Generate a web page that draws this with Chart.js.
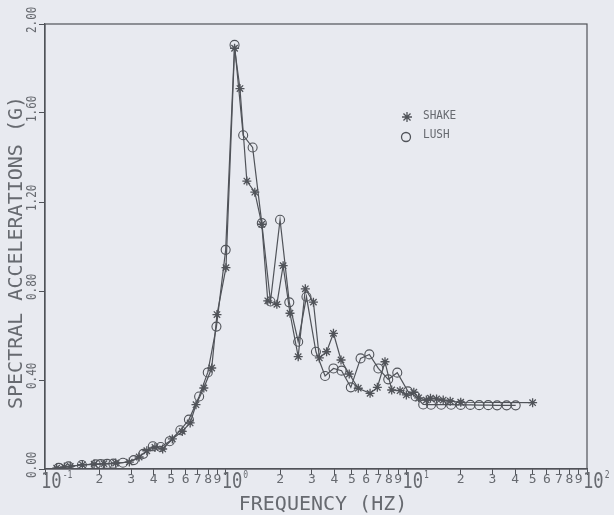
<!DOCTYPE html>
<html>
<head>
<meta charset="utf-8">
<title>Spectral accelerations - SHAKE x LUSH</title>
<script src="https://cdn.jsdelivr.net/npm/chart.js@4.4.1/dist/chart.umd.min.js"></script>
<style>
  html, body { margin: 0; padding: 0; background: #e8eaf0; }
  canvas { display: block; }
</style>
</head>
<body>
<canvas id="grafico" width="614" height="515"></canvas>
<script>
// =====================================================
// DADOS
// =====================================================
const shakeFreq = [0.116, 0.128, 0.138, 0.161, 0.187, 0.212, 0.246, 0.293, 0.332, 0.366,
  0.406, 0.448, 0.507, 0.575, 0.636, 0.685, 0.757, 0.837, 0.895, 1.004,
  1.12, 1.20, 1.31, 1.45, 1.585, 1.71, 1.92, 2.08, 2.27, 2.52,
  2.76, 3.06, 3.30, 3.62, 3.95, 4.35, 4.83, 5.42, 6.30, 6.91,
  7.62, 8.30, 9.23, 10.0, 11.0, 11.7, 12.9, 13.6, 14.7, 16.0,
  17.5, 20.0, 50.0];
const shakeAcc = [0.004, 0.009, 0.012, 0.019, 0.022, 0.024, 0.027, 0.031, 0.054, 0.082,
  0.097, 0.090, 0.135, 0.169, 0.207, 0.289, 0.364, 0.454, 0.694, 0.905,
  1.891, 1.71, 1.294, 1.244, 1.10, 0.756, 0.74, 0.914, 0.70, 0.505,
  0.81, 0.75, 0.499, 0.527, 0.61, 0.49, 0.427, 0.363, 0.34, 0.367,
  0.482, 0.355, 0.352, 0.333, 0.345, 0.32, 0.31, 0.318, 0.315, 0.31,
  0.305, 0.30, 0.298];

const lushFreq = [0.119, 0.135, 0.160, 0.191, 0.203, 0.221, 0.239, 0.270, 0.310, 0.350,
  0.395, 0.437, 0.49, 0.561, 0.626, 0.713, 0.796, 0.889, 1.00, 1.12,
  1.25, 1.41, 1.585, 1.77, 2.00, 2.25, 2.52, 2.80, 3.16, 3.55,
  3.95, 4.38, 4.93, 5.58, 6.24, 7.00, 7.94, 8.91, 10.2, 11.25,
  12.4, 13.7, 15.6, 17.7, 20.0, 22.6, 25.3, 28.4, 31.8, 35.9,
  40.3];
const lushAcc = [0.005, 0.012, 0.018, 0.021, 0.022, 0.023, 0.024, 0.028, 0.040, 0.068,
  0.102, 0.099, 0.125, 0.174, 0.222, 0.326, 0.434, 0.640, 0.985, 1.906,
  1.50, 1.445, 1.105, 0.753, 1.12, 0.749, 0.572, 0.774, 0.527, 0.418,
  0.452, 0.442, 0.367, 0.497, 0.515, 0.452, 0.403, 0.433, 0.349, 0.326,
  0.29, 0.289, 0.289, 0.289, 0.288, 0.288, 0.287, 0.287, 0.286, 0.286,
  0.286];

const xTicks = [0.1, 0.2, 0.3, 0.4, 0.5, 0.6, 0.7, 0.8, 0.9,
  1, 2, 3, 4, 5, 6, 7, 8, 9,
  10, 20, 30, 40, 50, 60, 70, 80, 90, 100];
const xTickLabels = ["10^-1", "2", "3", "4", "5", "6", "7", "8", "9",
  "10^0", "2", "3", "4", "5", "6", "7", "8", "9",
  "10^1", "2", "3", "4", "5", "6", "7", "8", "9", "10^2"];
const yTicks = [0, 0.4, 0.8, 1.2, 1.6, 2.0];
const yTickLabels = ["0.00", "0.40", "0.80", "1.20", "1.60", "2.00"];

const nomesSeries = ["SHAKE", "LUSH"];
const tituloX = "FREQUENCY (HZ)";
const tituloY = "SPECTRAL ACCELERATIONS (G)";

// =====================================================
// ESTILO
// =====================================================
const corFundo = "#e8eaf0";
const corLinha = "#505359";
const corTexto = "#676a70";
const fonte = '"DejaVu Sans Mono", monospace';

function pontos(fs, vs) {
  return fs.map((f, i) => ({ x: f, y: vs[i] }));
}

// texto comprimido na horizontal (fonte de plotter é estreita)
function textoEstreito(ctx, txt, x, y, sx) {
  ctx.save();
  ctx.translate(x, y);
  ctx.scale(sx, 1);
  ctx.fillText(txt, 0, 0);
  ctx.restore();
}

function marcador(ctx, estilo, x, y, r) {
  ctx.beginPath();
  if (estilo === "circle") {
    ctx.arc(x, y, r, 0, Math.PI * 2);
  } else {
    for (let k = 0; k < 4; k++) {
      const a = (k * Math.PI) / 4;
      ctx.moveTo(x - r * Math.cos(a), y - r * Math.sin(a));
      ctx.lineTo(x + r * Math.cos(a), y + r * Math.sin(a));
    }
  }
  ctx.stroke();
}

// =====================================================
// PLUGIN: fundo, moldura, rótulos e legenda
// =====================================================
const textosPlotter = {
  id: "textosPlotter",
  beforeDraw(chart) {
    const ctx = chart.ctx;
    ctx.save();
    ctx.fillStyle = corFundo;
    ctx.fillRect(0, 0, chart.width, chart.height);
    ctx.restore();
  },
  afterDraw(chart) {
    const { ctx, chartArea: area } = chart;
    const sx = chart.scales.x;
    const sy = chart.scales.y;
    ctx.save();

    // moldura
    ctx.strokeStyle = corLinha;
    ctx.lineWidth = 1.2;
    ctx.strokeRect(area.left, area.top, area.right - area.left, area.bottom - area.top);

    ctx.fillStyle = corTexto;

    // rótulos do eixo Y (girados, ponto decimal na marca)
    ctx.font = "14px " + fonte;
    ctx.textAlign = "left";
    ctx.textBaseline = "middle";
    yTicks.forEach((v, i) => {
      const py = sy.getPixelForValue(v);
      ctx.save();
      ctx.translate(area.left - 13, py + 9);
      ctx.rotate(-Math.PI / 2);
      ctx.scale(0.78, 1);
      ctx.fillText(yTickLabels[i], 0, 0);
      ctx.restore();
    });

    // rótulos do eixo X
    ctx.textBaseline = "alphabetic";
    xTicks.forEach((v, i) => {
      const px = sx.getPixelForValue(v);
      const lab = xTickLabels[i];
      if (lab.startsWith("10^")) {
        ctx.font = "22px " + fonte;
        ctx.textAlign = "left";
        const w = ctx.measureText("10").width * 0.78;
        textoEstreito(ctx, "10", px - 4, area.bottom + 19, 0.78);
        ctx.font = "10px " + fonte;
        textoEstreito(ctx, lab.slice(3), px - 4 + w + 1, area.bottom + 9, 0.8);
      } else {
        ctx.font = "13px " + fonte;
        ctx.textAlign = "center";
        ctx.fillText(lab, px, area.bottom + 14);
      }
    });

    // títulos
    ctx.font = "20px " + fonte;
    ctx.textAlign = "center";
    ctx.fillText(tituloX, (area.left + area.right) / 2 + 7, area.bottom + 41);
    ctx.save();
    ctx.translate(area.left - 28, (area.top + area.bottom) / 2 + 6);
    ctx.rotate(-Math.PI / 2);
    ctx.textBaseline = "middle";
    ctx.fillText(tituloY, 0, 0);
    ctx.restore();

    // legenda
    const lx = area.left + 362;
    const ly = area.top + 93;
    ctx.strokeStyle = corLinha;
    ctx.lineWidth = 1.3;
    marcador(ctx, "star", lx, ly, 5);
    marcador(ctx, "circle", lx - 1, ly + 20, 4.5);
    ctx.font = "13px " + fonte;
    ctx.textAlign = "left";
    ctx.textBaseline = "middle";
    textoEstreito(ctx, nomesSeries[0], lx + 16, ly - 1, 0.85);
    textoEstreito(ctx, nomesSeries[1], lx + 16, ly + 18, 0.85);

    ctx.restore();
  },
};

// =====================================================
// GRÁFICO
// =====================================================
const ctxGraf = document.getElementById("grafico").getContext("2d");
const grafico = new Chart(ctxGraf, {
  type: "line",
  data: {
    datasets: [
      {
        label: nomesSeries[0],
        data: pontos(shakeFreq, shakeAcc),
        borderColor: corLinha,
        borderWidth: 1.2,
        pointStyle: "star",
        pointRadius: 4.5,
        pointBorderColor: corLinha,
        pointBorderWidth: 1.3,
        pointBackgroundColor: "rgba(0,0,0,0)",
        tension: 0,
        fill: false,
      },
      {
        label: nomesSeries[1],
        data: pontos(lushFreq, lushAcc),
        borderColor: corLinha,
        borderWidth: 1.2,
        pointStyle: "circle",
        pointRadius: 4.5,
        pointBorderColor: corLinha,
        pointBorderWidth: 1.1,
        pointBackgroundColor: "rgba(0,0,0,0)",
        tension: 0,
        fill: false,
      },
    ],
  },
  options: {
    responsive: false,
    animation: false,
    devicePixelRatio: 1,
    layout: { padding: { left: 39, right: 27, top: 24, bottom: 40 } },
    plugins: { legend: { display: false }, tooltip: { enabled: false } },
    scales: {
      x: {
        type: "logarithmic",
        min: 0.1,
        max: 100,
        afterBuildTicks: (s) => { s.ticks = xTicks.map((v) => ({ value: v })); },
        ticks: { display: false },
        grid: { drawOnChartArea: false, drawTicks: true, tickLength: 6, color: corLinha, lineWidth: 1 },
        border: { display: true, color: corLinha, width: 1.2 },
      },
      y: {
        type: "linear",
        min: 0,
        max: 2,
        afterBuildTicks: (s) => { s.ticks = yTicks.map((v) => ({ value: v })); },
        ticks: { display: false },
        grid: { drawOnChartArea: false, drawTicks: true, tickLength: 6, color: corLinha, lineWidth: 1 },
        border: { display: true, color: corLinha, width: 1.2 },
      },
    },
  },
  plugins: [textosPlotter],
});
</script>
</body>
</html>
